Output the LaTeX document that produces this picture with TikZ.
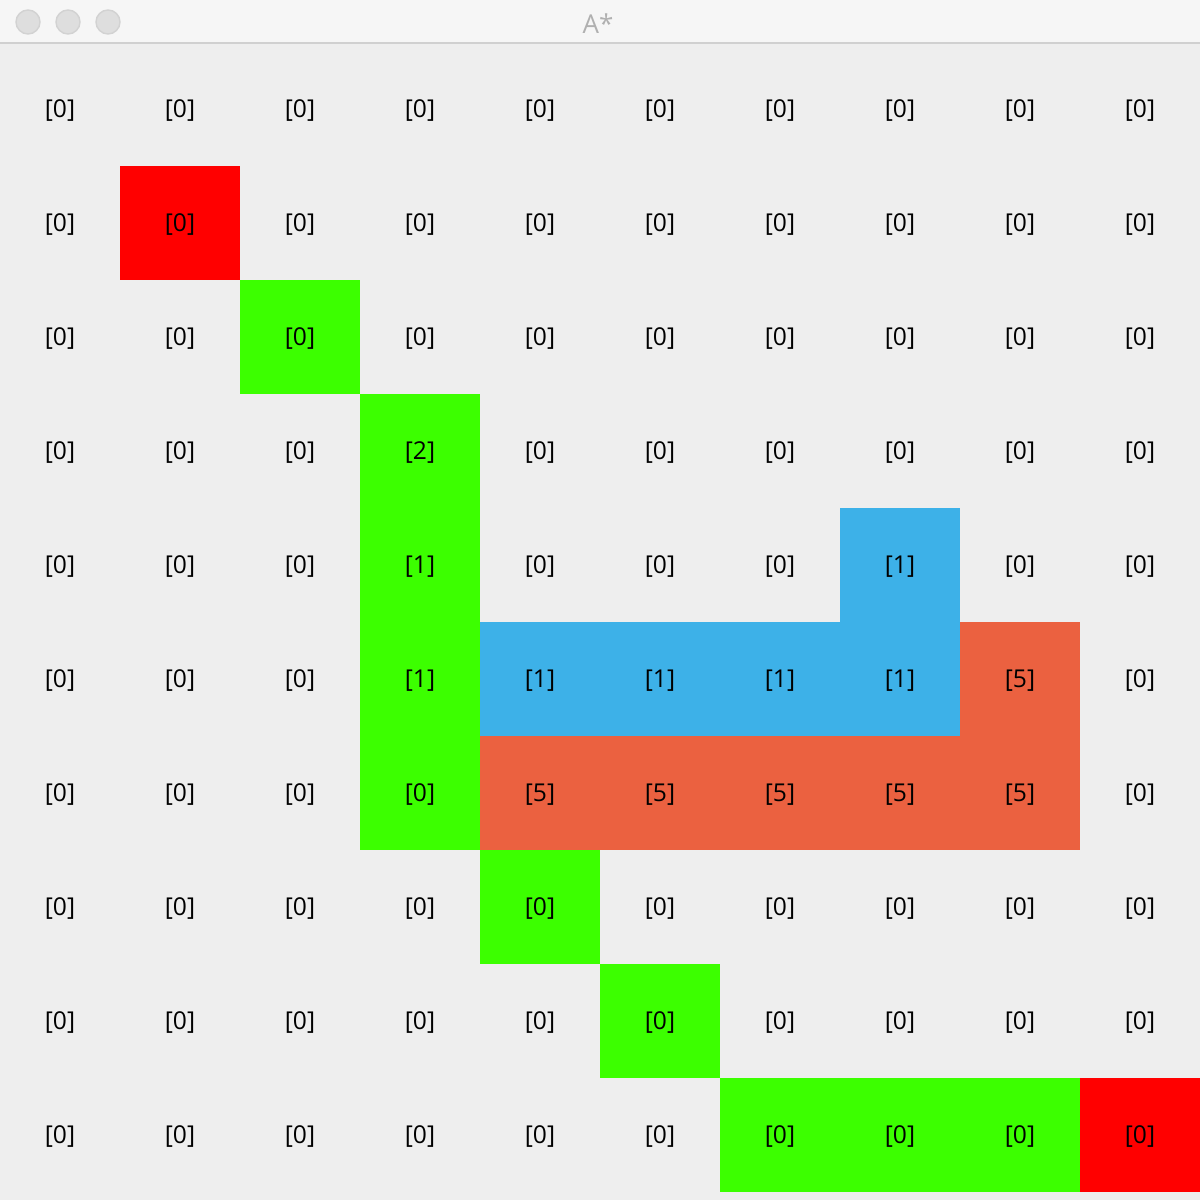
\documentclass[tikz,border=0pt]{standalone}
\usepackage{fontspec}
\setmainfont{Open Sans}
\usepackage{xcolor}
\usepackage{tikz}
\usetikzlibrary{positioning}
\definecolor{winbg}{HTML}{EEEEEE}
\definecolor{barbg}{HTML}{F6F6F6}
\definecolor{barline}{HTML}{D0D0D0}
\definecolor{btnfill}{HTML}{DEDEDE}
\definecolor{btnline}{HTML}{D2D2D2}
\definecolor{titlegray}{HTML}{B0B0B0}
\definecolor{routegreen}{HTML}{3CFF00}
\definecolor{endred}{HTML}{FF0000}
\definecolor{lowblue}{HTML}{3DB1E8}
\definecolor{highorange}{HTML}{EB6140}

\begin{document}
\begin{tikzpicture}[
  font=\fontsize{7pt}{8pt}\selectfont,
  cell/.style={rectangle, inner sep=0pt, minimum width=12mm, minimum height=11.4mm,
               text height=2.28mm, text depth=0.5mm, /utils/exec=\def\cv{0}},
  route/.style={fill=routegreen},
  endpt/.style={fill=endred},
  lowcost/.style={fill=lowblue, /utils/exec=\def\cv{1}},
  highcost/.style={fill=highorange, /utils/exec=\def\cv{5}},
  btn/.style={circle, draw=btnline, fill=btnfill, minimum size=2.4mm, inner sep=0pt},
  % --- cells that are not plain [0] ---
  c1-1/.style={endpt}, c9-9/.style={endpt},
  c2-2/.style={route}, c3-3/.style={route, /utils/exec=\def\cv{2}},
  c4-3/.style={route, /utils/exec=\def\cv{1}}, c5-3/.style={route, /utils/exec=\def\cv{1}},
  c6-3/.style={route}, c7-4/.style={route}, c8-5/.style={route},
  c9-6/.style={route}, c9-7/.style={route}, c9-8/.style={route},
  c4-7/.style={lowcost}, c5-4/.style={lowcost}, c5-5/.style={lowcost},
  c5-6/.style={lowcost}, c5-7/.style={lowcost},
  c5-8/.style={highcost}, c6-4/.style={highcost}, c6-5/.style={highcost},
  c6-6/.style={highcost}, c6-7/.style={highcost}, c6-8/.style={highcost},
]
\useasboundingbox (0,0) rectangle (12,12);
% --- window ---
\fill[winbg] (0,0) rectangle (12,11.57);
\fill[barbg] (0,11.57) rectangle (12,12);
\draw[barline, line width=0.2mm] (0,11.57) -- (12,11.57);
\foreach \i/\x in {1/0.28, 2/0.68, 3/1.08}
  \node[btn] (b\i) at (\x,11.78) {};
\node[titlegray, font=\fontsize{7.4pt}{8pt}\selectfont] (title) at (5.98,11.76) {A*};
% --- grid ---
\foreach \r in {0,...,9}
  \foreach \c in {0,...,9}
    \node[cell, c\r-\c/.try] (n\r-\c) at ({0.6+1.2*\c},{10.91-1.14*\r}) {[\cv]};
\end{tikzpicture}
\end{document}
